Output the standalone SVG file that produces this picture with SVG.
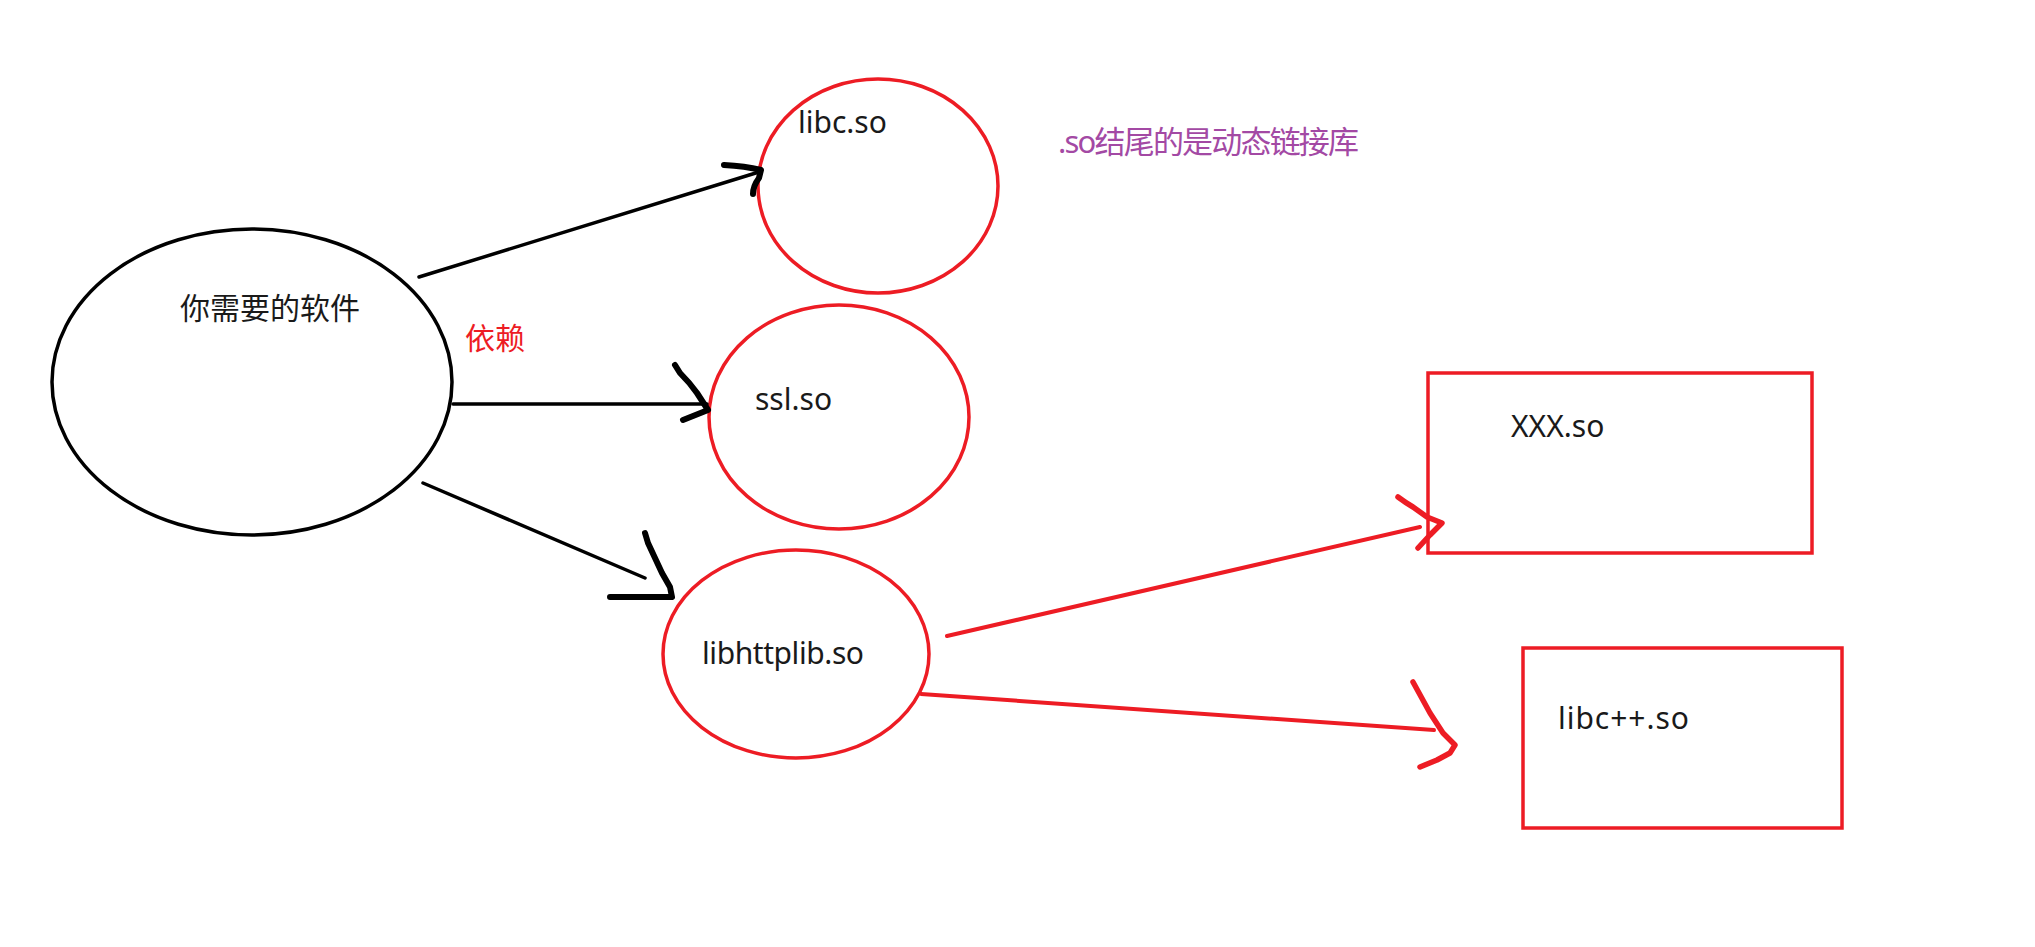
<svg xmlns="http://www.w3.org/2000/svg" width="2035" height="947" viewBox="0 0 2035 947">
<style>
text{font-family:"Noto Sans","Noto Sans CJK SC",sans-serif;font-size:30px;fill:#1a1a1a}
.red{fill:#ED1C24}
.purple{fill:#A349A4;font-size:31px}
.blk{fill:none;stroke:#000;stroke-width:3.5}
.rnode{fill:none;stroke:#ED1C24;stroke-width:3.5}
.line{fill:none;stroke:#000;stroke-width:3.5;stroke-linecap:round}
.head{fill:none;stroke:#000;stroke-width:6;stroke-linecap:round;stroke-linejoin:round}
.rline{fill:none;stroke:#ED1C24;stroke-width:4;stroke-linecap:round}
.rhead{fill:none;stroke:#ED1C24;stroke-width:5.5;stroke-linecap:round;stroke-linejoin:round}
</style>
<rect width="2035" height="947" fill="#fff"/>
<g id="software">
<ellipse class="blk" cx="252" cy="382" rx="200" ry="153"/>
<text x="180" y="319">你需要的软件</text>
</g>
<g id="libc">
<ellipse class="rnode" cx="878" cy="186" rx="120" ry="107"/>
<text x="798" y="133">libc.so</text>
</g>
<g id="ssl">
<ellipse class="rnode" cx="839" cy="417" rx="130" ry="112"/>
<text x="755" y="410">ssl.so</text>
</g>
<g id="libhttplib">
<ellipse class="rnode" cx="796" cy="654" rx="133" ry="104"/>
<text x="702" y="664" textLength="162">libhttplib.so</text>
</g>
<g id="xxx">
<rect class="rnode" x="1428" y="373" width="384" height="180"/>
<text x="1511" y="437">XXX.so</text>
</g>
<g id="libcpp">
<rect class="rnode" x="1523" y="648" width="319" height="180"/>
<text x="1558" y="729" textLength="131">libc++.so</text>
</g>
<g id="label-depend">
<text class="red" x="465" y="349">依赖</text>
</g>
<g id="note">
<text class="purple" x="1058" y="153" textLength="301">.so结尾的是动态链接库</text>
</g>
<g id="connectors">
<path class="line" d="M419,277 L759,172"/>
<path class="head" d="M724,165 Q745,166 761,170 L759,178 Q753,186 753,194"/>
<path class="line" d="M453,404 L707,404"/>
<path class="head" d="M675,365 L680,373 Q690,383 697,393 L708,410 L693,416 L683,420"/>
<path class="line" d="M423,483 L645,578"/>
<path class="head" d="M645,533 L648,543 L662,573 L670,587 L672,597 L610,597"/>
<path class="rline" d="M947,636 L1420,527"/>
<path class="rhead" d="M1398,497 Q1406,503 1413,507 L1427,517 L1442,523 L1430,535 L1418,548"/>
<path class="rline" d="M921,694 L1434,730"/>
<path class="rhead" d="M1413,682 L1430,713 L1443,733 L1455,745 L1450,753 L1437,760 L1420,767"/>
</g>
</svg>
